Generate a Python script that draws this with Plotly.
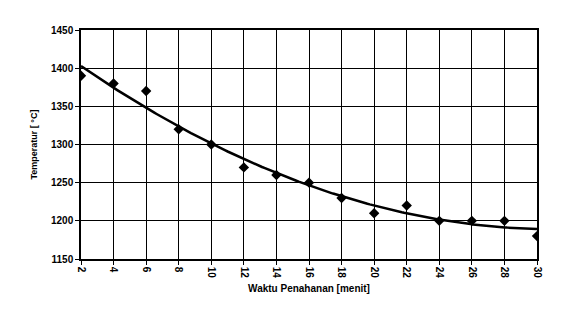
import numpy as np
import plotly.graph_objects as go

waktu = [2, 4, 6, 8, 10, 12, 14, 16, 18, 20, 22, 24, 26, 28, 30]
temperatur = [1390, 1380, 1370, 1320, 1300, 1270, 1260, 1250, 1230, 1210, 1220, 1200, 1200, 1200, 1180]
x_ticks = list(range(2, 31, 2))
y_ticks = list(range(1150, 1451, 50))

coef = np.polyfit(waktu, temperatur, 2)
xf = np.linspace(2, 30, 200)
yf = np.polyval(coef, xf)

fam = "Liberation Sans, Arial, sans-serif"
tickfont = dict(family=fam, size=10, color="black", weight="bold")

fig = go.Figure()
fig.add_trace(go.Scatter(x=xf, y=yf, mode="lines", line=dict(color="black", width=2.5),
                         showlegend=False, hoverinfo="skip"))
fig.add_trace(go.Scatter(x=waktu, y=temperatur, mode="markers",
                         marker=dict(symbol="diamond", size=8, color="black"),
                         showlegend=False))

fig.update_layout(
    width=566, height=317,
    margin=dict(l=81, r=29, t=30, b=58),
    paper_bgcolor="white", plot_bgcolor="white",
    font=dict(family=fam, size=10, color="black"),
    xaxis=dict(range=[2, 30], tickvals=x_ticks, tickangle=90,
               showgrid=True, gridcolor="black", gridwidth=1.3,
               showline=True, linecolor="black", linewidth=1.5, mirror=True,
               ticks="outside", ticklen=4, tickcolor="black", zeroline=False,
               tickfont=tickfont,
               title=dict(text="<b>Waktu Penahanan [menit]</b>", standoff=8,
                          font=dict(family=fam, size=10, color="black"))),
    yaxis=dict(range=[1150, 1450], tickvals=y_ticks,
               showgrid=True, gridcolor="black", gridwidth=1.3,
               showline=True, linecolor="black", linewidth=1.5, mirror=True,
               ticks="outside", ticklen=4, tickcolor="black", zeroline=False,
               tickfont=tickfont,
               title=dict(text="<b>Temperatur [ °C]</b>", standoff=12,
                          font=dict(family=fam, size=9, color="black"))),
)
fig.write_html("out.html")
